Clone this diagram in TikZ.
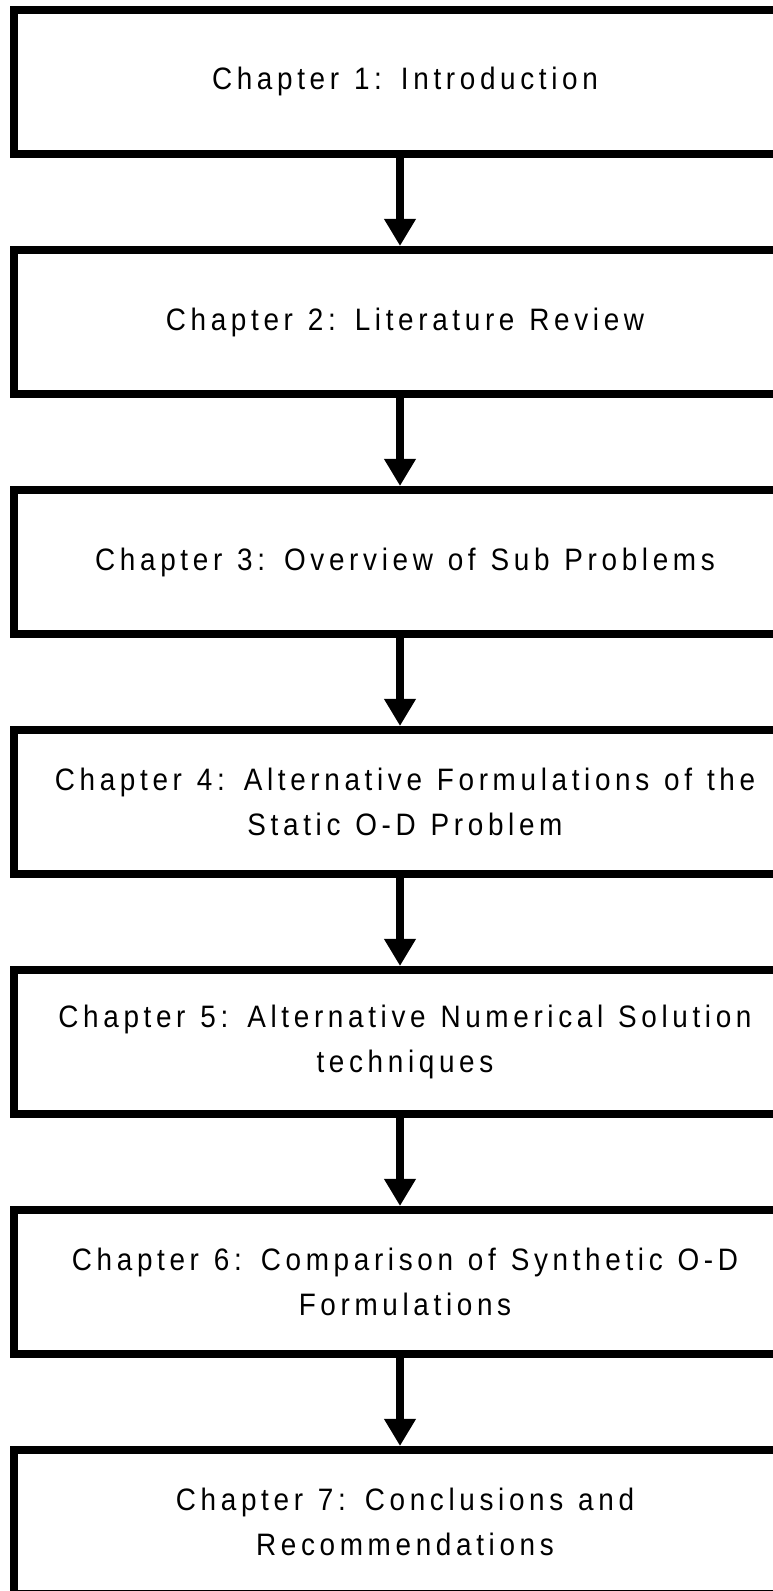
\documentclass[tikz,border=0pt]{standalone}
\usepackage{fontspec}
\setmainfont{Liberation Sans}[LetterSpace=15, FakeStretch=0.9, WordSpace=1.2]
\usepackage{tikz}
\usetikzlibrary{arrows.meta, positioning}

\begin{document}
\begin{tikzpicture}[chapbox/.style={rectangle, draw, line width=8pt, minimum width=782pt, minimum height=144pt, align=center, font=\fontsize{31pt}{45pt}\selectfont}, node distance=88pt]
            \useasboundingbox (0,0) rectangle (773pt,1591pt);
            \node[chapbox] at (405pt, 1509pt) (c1) {Chapter 1: Introduction};
            \node[chapbox, below=of c1] (c2) {Chapter 2: Literature Review};
            \node[chapbox, below=of c2] (c3) {Chapter 3: Overview of Sub Problems};
            \node[chapbox, below=of c3] (c4) {Chapter 4: Alternative Formulations of the\\Static O-D Problem};
            \node[chapbox, below=of c4] (c5) {Chapter 5: Alternative Numerical Solution\\techniques};
            \node[chapbox, below=of c5] (c6) {Chapter 6: Comparison of Synthetic O-D\\Formulations};
            \node[chapbox, below=of c6] (c7) {Chapter 7: Conclusions and\\Recommendations};

            \draw [-{Triangle[width=30pt, length=27pt]}, line width=8pt] ([xshift=-5pt]c1.south) -- ([xshift=-5pt]c2.north);
            \draw [-{Triangle[width=30pt, length=27pt]}, line width=8pt] ([xshift=-5pt]c2.south) -- ([xshift=-5pt]c3.north);
            \draw [-{Triangle[width=30pt, length=27pt]}, line width=8pt] ([xshift=-5pt]c3.south) -- ([xshift=-5pt]c4.north);
            \draw [-{Triangle[width=30pt, length=27pt]}, line width=8pt] ([xshift=-5pt]c4.south) -- ([xshift=-5pt]c5.north);
            \draw [-{Triangle[width=30pt, length=27pt]}, line width=8pt] ([xshift=-5pt]c5.south) -- ([xshift=-5pt]c6.north);
            \draw [-{Triangle[width=30pt, length=27pt]}, line width=8pt] ([xshift=-5pt]c6.south) -- ([xshift=-5pt]c7.north);
        \end{tikzpicture}
\end{document}
